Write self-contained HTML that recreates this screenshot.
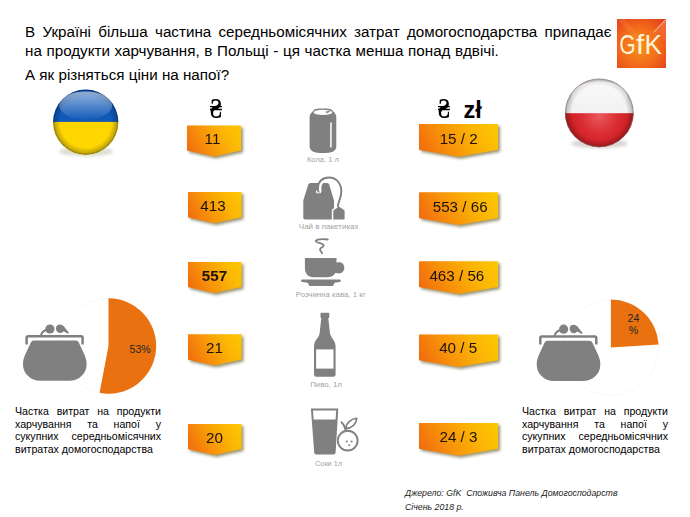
<!DOCTYPE html>
<html lang="uk"><head><meta charset="utf-8"><title>GfK</title>
<style>
html,body{margin:0;padding:0;background:#fff;}
body{width:690px;height:517px;position:relative;overflow:hidden;font-family:"Liberation Sans",sans-serif;color:#000;}
.box span{color:#1c1208;}
.abs{position:absolute;}
.t{position:absolute;left:25px;width:586.5px;font-size:15.2px;line-height:18.3px;white-space:nowrap;}
.j{text-align:justify;text-align-last:justify;white-space:normal;}
.box{position:absolute;filter:drop-shadow(2px 2px 1.6px rgba(85,75,20,.6));}
.box i{position:absolute;left:0;top:0;right:0;bottom:0;background:linear-gradient(62deg,#f0650f 0%,#f7900a 35%,#fbb505 70%,#fdc803 100%);}
.box span{position:absolute;left:0;right:0;top:0;height:28px;line-height:28px;text-align:center;font-size:15.2px;}
.lb{width:54px;left:187.5px;height:31.2px;}
.lb i{clip-path:polygon(0 0,100% 0,100% 80.5%,50% 100%,0 80.5%);}
.rb span{top:.5px}
.rb{width:79.3px;left:419px;height:32.7px;}
.rb i{clip-path:polygon(0 0,100% 0,100% 79%,50% 100%,0 79%);}
.cap{position:absolute;font-size:7.6px;color:#a3a3a3;text-align:center;width:120px;white-space:nowrap;}
.note{position:absolute;font-size:10.6px;line-height:12.6px;width:146px;text-align:justify;}
.src{position:absolute;font-size:8.78px;color:#1c1c1c;font-style:italic;left:405px;white-space:nowrap;}
</style></head><body>
<div class="t j" style="top:23.3px;">В Україні більша частина середньомісячних затрат домогосподарства припадає</div>
<div class="t" style="top:41.9px;word-spacing:.42px">на продукти харчування, в Польщі - ця частка менша понад вдвічі.</div>
<div class="t" style="top:65.6px;">А як різняться ціни на напої?</div>

<!-- GfK logo -->
<svg class="abs" style="left:617px;top:19px" width="49.2" height="49.4" viewBox="0 0 49.2 49.4">
<defs><radialGradient id="lg" cx="46%" cy="56%" r="72%"><stop offset="0" stop-color="#f7921c"/><stop offset="0.55" stop-color="#f26a1a"/><stop offset="1" stop-color="#e5401c"/></radialGradient>
<linearGradient id="lf" x1="1" y1="0" x2="0.3" y2="0.7"><stop offset="0" stop-color="#f9a070" stop-opacity=".55"/><stop offset="1" stop-color="#f9a070" stop-opacity="0"/></linearGradient></defs>
<rect width="49.2" height="49.4" fill="url(#lg)"/>
<polygon points="49.2,0 49.2,22 30,20" fill="url(#lf)"/>
<polygon points="0,0 8,0 26,22 22,24" fill="#f8a050" opacity=".22"/>
<line x1="36.5" y1="13.5" x2="48.3" y2="1" stroke="#fcdcb8" stroke-width="0.9"/>
<g font-family="Liberation Sans, sans-serif" font-size="28.3" fill="#fff4d8"><text x="2.6" y="35.4" textLength="16" lengthAdjust="spacingAndGlyphs">G</text><text x="19" y="35.4" textLength="8.2" lengthAdjust="spacingAndGlyphs">f</text><text x="27.6" y="35.4" textLength="17.4" lengthAdjust="spacingAndGlyphs">K</text></g>
</svg>

<!-- Ukraine flag -->
<svg class="abs" style="left:45px;top:82px" width="82" height="82" viewBox="45 82 82 82">
<defs>
<clipPath id="cu"><circle cx="85.7" cy="122.2" r="32.7"/></clipPath>
<radialGradient id="rim" cx="50%" cy="50%" r="50%"><stop offset="0" stop-color="#000" stop-opacity="0"/><stop offset="0.78" stop-color="#000" stop-opacity="0"/><stop offset="0.93" stop-color="#001030" stop-opacity=".22"/><stop offset="1" stop-color="#001030" stop-opacity=".5"/></radialGradient>
<linearGradient id="hl" x1="0" y1="0" x2="0" y2="1"><stop offset="0" stop-color="#fff" stop-opacity=".55"/><stop offset="1" stop-color="#fff" stop-opacity="0.02"/></linearGradient>
<filter id="bl" x="-20%" y="-20%" width="140%" height="140%"><feGaussianBlur stdDeviation="1.6"/></filter>
</defs>
<ellipse cx="86" cy="151.5" rx="27" ry="5" fill="#8a8a6a" opacity=".28" filter="url(#bl)"/>
<g clip-path="url(#cu)"><rect x="50" y="86" width="72" height="36" fill="#1159b8"/><rect x="50" y="121.9" width="72" height="36" fill="#ffd600"/>
<circle cx="85.7" cy="122.2" r="32.7" fill="url(#rim)"/>
<ellipse cx="85.7" cy="105.5" rx="26.5" ry="14" fill="url(#hl)"/>
</g>
</svg>

<!-- Poland flag -->
<svg class="abs" style="left:558px;top:72px" width="84" height="84" viewBox="558 72 84 84">
<defs>
<radialGradient id="prd" gradientUnits="userSpaceOnUse" cx="599.3" cy="116" r="34"><stop offset="0" stop-color="#e8595c"/><stop offset="0.55" stop-color="#da2c32"/><stop offset="1" stop-color="#c81c22"/></radialGradient>
<clipPath id="cp"><circle cx="599.3" cy="112.8" r="34.4"/></clipPath>
<radialGradient id="rimp" cx="50%" cy="50%" r="50%"><stop offset="0" stop-color="#000" stop-opacity="0"/><stop offset="0.8" stop-color="#000" stop-opacity="0"/><stop offset="0.94" stop-color="#200" stop-opacity=".2"/><stop offset="1" stop-color="#200" stop-opacity=".45"/></radialGradient>
</defs>
<ellipse cx="599.5" cy="143.5" rx="28" ry="5" fill="#7a6a6a" opacity=".28" filter="url(#bl)"/>
<g clip-path="url(#cp)"><rect x="560" y="76" width="80" height="38" fill="#f2f2f2"/><rect x="560" y="113.2" width="80" height="38" fill="url(#prd)"/>
<circle cx="599.3" cy="112.8" r="34.4" fill="url(#rimp)"/>
<ellipse cx="599.3" cy="96" rx="28" ry="14.5" fill="url(#hl)"/>
</g>
<circle cx="599.3" cy="112.8" r="34" fill="none" stroke="#8a8a8a" stroke-opacity=".55" stroke-width="0.9"/>
</svg>

<svg class="abs" style="left:0;top:0" width="690" height="517" viewBox="0 0 690 517">
<!-- pies -->
<circle cx="108.5" cy="346" r="47.7" fill="#fff" stroke="#f8f8f8" stroke-width="1"/><path d="M108.5,346 L108.5,298.3 A47.7,47.7 0 1 1 99.56,392.86 Z" fill="#e9710f"/>
<circle cx="610.9" cy="347.4" r="47.8" fill="#fff" stroke="#f8f8f8" stroke-width="1"/><path d="M610.9,347.4 L610.9,299.59999999999997 A47.8,47.8 0 0 1 658.61,344.40 Z" fill="#e9710f"/>
<g fill="#808080">
<path d="M34,340.6 H75.6 Q78,340.6 78.9,342.8 L84.6,355 C86.2,359 86.6,361.5 86.6,364.5 C86.6,373 79.5,380.8 69,380.8 H40.6 C30.1,380.8 23,373 23,364.5 C23,361.5 23.4,359 25,355 L30.7,342.8 Q31.6,340.6 34,340.6 Z"/>
<path d="M26.6,344.4 V337.8 Q26.6,336.2 28.2,336.2 H81 Q82.6,336.2 82.6,337.8 V344.4" fill="none" stroke="#808080" stroke-width="2.5" stroke-linecap="butt"/>
<circle cx="49.9" cy="329" r="4.6"/>
<path d="M47,329.8 C43.8,330.6 41.8,332.6 41,335" fill="none" stroke="#808080" stroke-width="2" stroke-linecap="round"/>
<path d="M55.9,328.6 C55.9,326.2 57.6,324.6 59.8,324.6 C62.1,324.6 63.7,325.9 64.9,327.7 L69,332.8 L68.1,333.7 L63.6,331.2 C62.7,332.4 61.4,333 59.8,333 C57.6,333 55.9,331 55.9,328.6 Z"/>
</g>
<g fill="#808080" transform="translate(513.7,0.2)">
<path d="M34,340.6 H75.6 Q78,340.6 78.9,342.8 L84.6,355 C86.2,359 86.6,361.5 86.6,364.5 C86.6,373 79.5,380.8 69,380.8 H40.6 C30.1,380.8 23,373 23,364.5 C23,361.5 23.4,359 25,355 L30.7,342.8 Q31.6,340.6 34,340.6 Z"/>
<path d="M26.6,344.4 V337.8 Q26.6,336.2 28.2,336.2 H81 Q82.6,336.2 82.6,337.8 V344.4" fill="none" stroke="#808080" stroke-width="2.5" stroke-linecap="butt"/>
<circle cx="49.9" cy="329" r="4.6"/>
<path d="M47,329.8 C43.8,330.6 41.8,332.6 41,335" fill="none" stroke="#808080" stroke-width="2" stroke-linecap="round"/>
<path d="M55.9,328.6 C55.9,326.2 57.6,324.6 59.8,324.6 C62.1,324.6 63.7,325.9 64.9,327.7 L69,332.8 L68.1,333.7 L63.6,331.2 C62.7,332.4 61.4,333 59.8,333 C57.6,333 55.9,331 55.9,328.6 Z"/>
</g>
<g fill="#808080" stroke="none">
<!-- cola can -->
<path d="M313.3,111 C313.3,109.2 318,108.6 323,108.6 C328,108.6 332.7,109.2 332.7,111 C334.8,112.6 336.3,114.4 336.3,117.2 V146.4 C336.3,148.8 335,150.2 333.2,151.4 C331,152.6 327,152.9 323,152.9 C319,152.9 315,152.6 312.8,151.4 C311,150.2 309.6,148.8 309.6,146.4 V117.2 C309.6,114.4 311.2,112.6 313.3,111 Z"/>
<ellipse cx="322.9" cy="112.4" rx="9.3" ry="2.6" fill="#fff"/>
<path d="M325.2,111.7 l4.3,-1.1 l0.7,1.1 l-3.4,1.5 z" fill="#8c8c8c"/>
<rect x="330.2" y="122.4" width="1.5" height="25" fill="#fff"/>
<!-- tea bag -->
<path d="M310.5,183.1 H327 Q328.6,183.1 329.2,184.6 L334,200.4 V217.8 Q334,219.4 332.4,219.4 H305 Q303.3,219.4 303.3,217.8 V200.4 L308.3,184.6 Q308.9,183.1 310.5,183.1 Z"/>
<path d="M332.6,220 V210.2 L338.9,205.8 L345.4,210.2 V218.2 Q345.4,220 344,220 Z" fill="#fff" stroke="#fff" stroke-width="1.6"/>
<path d="M333.3,219.4 V210.6 L338.9,206.6 L344.6,210.6 V218.2 Q344.6,219.4 343.4,219.4 Z"/>
<path d="M319.6,192 V187.5 C319.6,183.5 321.5,181.5 324,180.5" fill="none" stroke="#fff" stroke-width="3.6"/>
<rect x="316" y="190.2" width="5" height="3" rx="0.8" fill="#fff"/>
<path d="M318,191.6 V187.5 C318,181.5 322.5,177.5 329,177.5 C336.5,177.5 341.3,183.5 341.3,191.5 C341.3,198 338.3,201 337.8,206.8" fill="none" stroke="#808080" stroke-width="1.9"/>
<path d="M317,191.9 h3" stroke="#808080" stroke-width="0.9"/>
<!-- coffee -->
<path d="M304.9,257.9 H336.5 V262.8 C337.5,262.4 338.5,262.3 339.5,262.3 C342.3,262.3 344.3,264.7 344.3,267.8 C344.3,271 342,273.5 339,273.5 C337.8,273.5 336.6,273.3 335.6,272.8 C334,275.6 331.5,277.2 328,277.2 H313.4 C308,277.2 304.9,273.5 304.9,268 Z"/>
<path d="M302.2,279.4 H339.7 Q340.9,279.4 340.9,280.5 Q340.9,281.7 339.7,281.9 L334.6,282.8 L333,285.9 H309.4 L307.8,282.8 L302.2,281.9 Q301,281.7 301,280.5 Q301,279.4 302.2,279.4 Z"/>
<path d="M327.8,239.5 C322,238.7 316.2,239.4 315.7,241 C315.2,242.8 323.2,243 323.6,245.3 C323.9,247.4 319.9,247.6 320,249.4 C320.1,250.8 321.6,251.8 322.1,253.3" fill="none" stroke="#808080" stroke-width="1.8" stroke-linecap="round"/>
<!-- beer -->
<path d="M321.2,312.8 H328.6 Q329.3,312.8 329.3,313.5 V317.3 Q329.3,318 328.6,318 H328.3 L329.9,332.5 C330.4,338.5 335.6,339.5 335.6,346.5 V374.5 Q335.6,376.7 333.4,376.7 H316.2 Q314,376.7 314,374.5 V346.5 C314,339.5 319.2,338.5 319.7,332.5 L321.3,318 H321.2 Q320.5,318 320.5,317.3 V313.5 Q320.5,312.8 321.2,312.8 Z"/>
<rect x="316.1" y="349.4" width="17.4" height="19.2" fill="#fff"/>
<!-- juice -->
<path d="M310.9,408.6 H338.3 L335.6,452.6 Q335.5,454.6 333.5,454.6 H316.3 Q314.3,454.6 314.2,452.6 Z"/>
<path d="M313,410.5 H336.2 L335.6,419.6 H313.6 Z" fill="#fff"/>
<circle cx="347.6" cy="440.6" r="11" fill="#fff"/>
<circle cx="347.7" cy="440.6" r="9.9" fill="none" stroke="#808080" stroke-width="1.9"/>
<path d="M345.6,430 C345,427 343.5,424 341.6,422.2" fill="none" stroke="#808080" stroke-width="1.9" stroke-linecap="round"/>
<path d="M345.6,428.6 C346.3,422.5 351.5,418.6 356.8,418.3 C356.2,424.2 351.5,428.4 345.6,428.6 Z" fill="#fff" stroke="#808080" stroke-width="1.6" stroke-linejoin="round"/>
<circle cx="346.8" cy="441.4" r="1"/><circle cx="351.6" cy="441.4" r="1"/><circle cx="349.2" cy="445.3" r="1"/>
</g>
<text x="129.5" y="352.8" font-size="10.6" font-family="Liberation Sans, sans-serif" fill="#262626">53%</text>
<text x="633.4" y="321.9" font-size="10.6" text-anchor="middle" font-family="Liberation Sans, sans-serif" fill="#262626">24</text>
<text x="633.4" y="333.6" font-size="10.6" text-anchor="middle" font-family="Liberation Sans, sans-serif" fill="#262626">%</text>
</svg>

<!-- currency -->
<div class="abs" id="h1" style="left:208.6px;top:95.9px;font-weight:bold;transform:scale(.93,1.25);transform-origin:50% 78%;font-size:24px;line-height:28px;font-family:'Liberation Serif','DejaVu Serif',serif;">₴</div>
<div class="abs" id="h2" style="left:436.6px;top:95.9px;font-weight:bold;transform:scale(.93,1.25);transform-origin:50% 78%;font-size:24px;line-height:28px;font-family:'Liberation Serif','DejaVu Serif',serif;">₴</div>
<div class="abs" id="zl" style="left:463.5px;top:96px;font-size:23.5px;line-height:28px;font-weight:bold;">zł</div>

<!-- left boxes -->
<div class="box lb" style="top:125.4px;left:187px"><i></i><span style="left:-3px">11</span></div>
<div class="box lb" style="top:192.1px"><i></i><span style="left:-3px">413</span></div>
<div class="box lb" style="top:261.9px"><i></i><span><b>557</b></span></div>
<div class="box lb" style="top:334.3px"><i></i><span>21</span></div>
<div class="box lb" style="top:423.9px"><i></i><span>20</span></div>
<!-- right boxes -->
<div class="box rb" style="top:124px"><i></i><span style="left:0px">15 / 2</span></div>
<div class="box rb" style="top:192.2px"><i></i><span style="left:3px">553 / 66</span></div>
<div class="box rb" style="top:261.3px"><i></i><span style="left:-3.6px">463 / 56</span></div>
<div class="box rb" style="top:334.4px"><i></i><span style="left:-1px;top:-.5px">40 / 5</span></div>
<div class="box rb" style="top:423px"><i></i><span style="left:-.4px;top:-.5px">24 / 3</span></div>

<!-- captions -->
<div class="cap" style="left:263px;top:154.8px;font-size:7.6px">Кола, 1 л</div>
<div class="cap" style="left:268.7px;top:221.6px;font-size:8px">Чай в пакетиках</div>
<div class="cap" style="left:270.7px;top:289.6px;font-size:7.85px">Розчинна кава, 1 кг</div>
<div class="cap" style="left:266px;top:379.5px;font-size:7.8px">Пиво, 1л</div>
<div class="cap" style="left:268.6px;top:458.6px;font-size:7.4px">Соки 1л</div>

<!-- notes -->
<div class="note" style="left:15px;top:405.3px">Частка витрат на продукти харчування та напої у сукупних середньомісячних витратах домогосподарства</div>
<div class="note" style="left:522px;top:405.3px">Частка витрат на продукти харчування та напої у сукупних середньомісячних витратах домогосподарства</div>

<div class="src" style="top:488px">Джерело: GfK&nbsp; Споживча Панель Домогосподарств</div>
<div class="src" style="top:502.3px">Січень 2018 р.</div>
</body></html>
